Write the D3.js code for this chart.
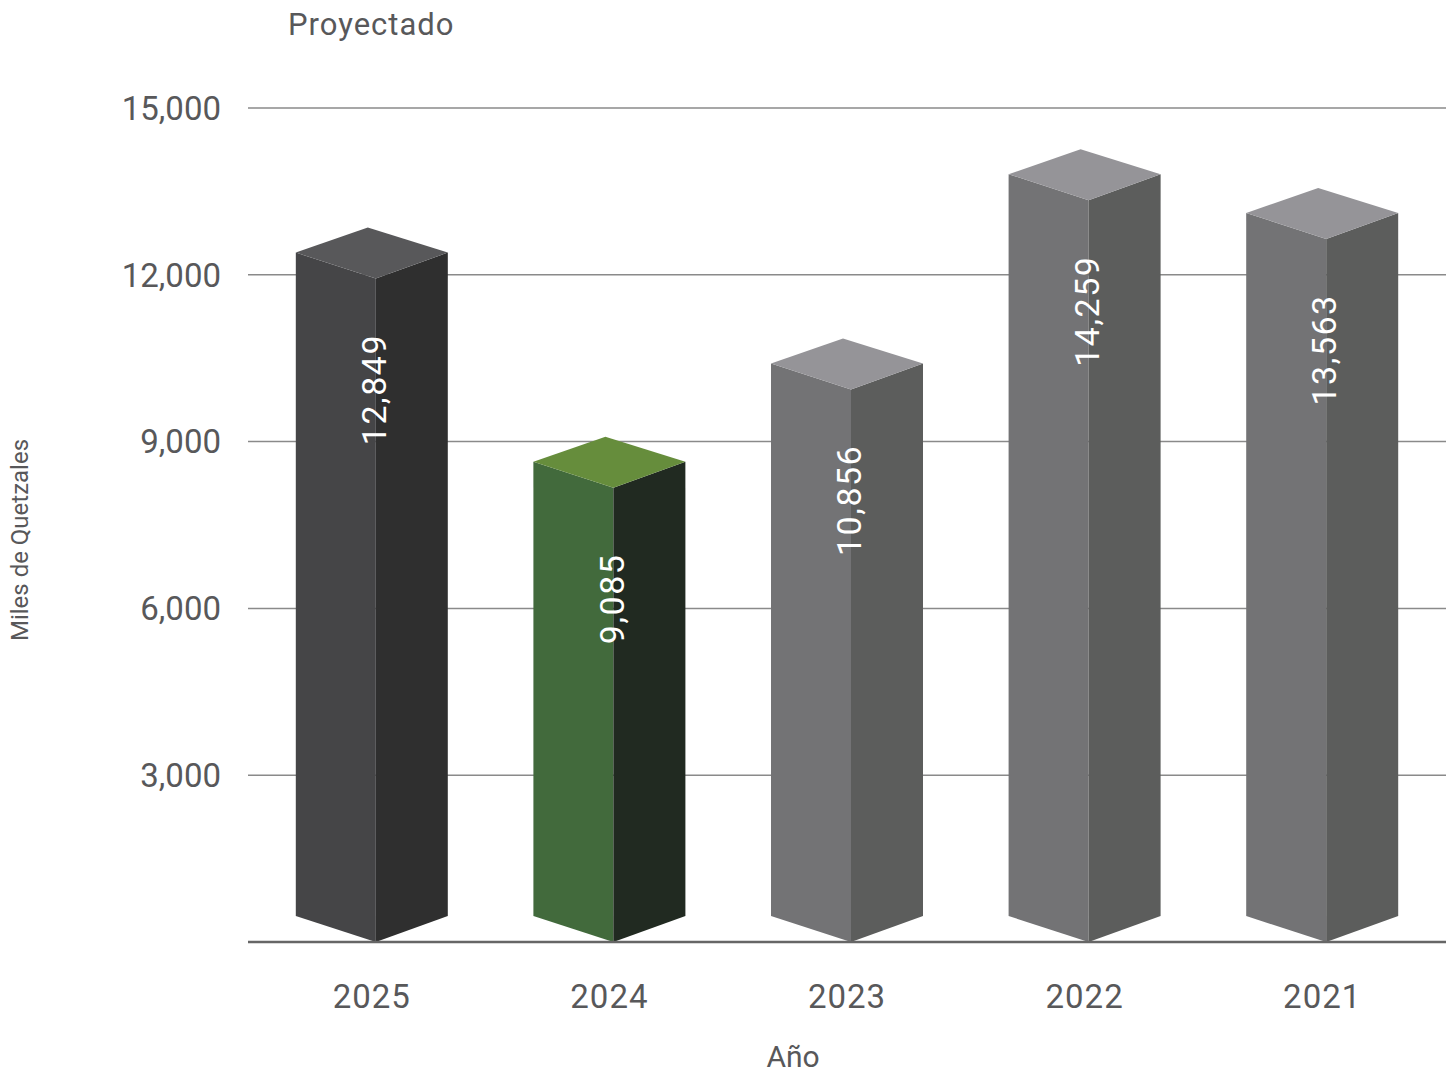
<!DOCTYPE html>
<html>
<head>
<meta charset="utf-8">
<script src="https://cdn.jsdelivr.net/npm/d3@7"></script>
<style>
  body { margin: 0; background: #fff; }
  text { font-family: "Roboto", "DejaVu Sans", sans-serif; }
</style>
</head>
<body>
<div class="chart"></div>
<script>
var svgWidth = 1453;
var svgHeight = 1075;

// data
var years = ["2025", "2024", "2023", "2022", "2021"];
var values = [12849, 9085, 10856, 14259, 13563];
var yTicks = [3000, 6000, 9000, 12000, 15000];

// face colours per bar: [left, right, top]
var palette = {
  "2025": ["#454547", "#2f2f2f", "#58585a"],
  "2024": ["#426a3c", "#212a21", "#668d3c"],
  "other": ["#737375", "#5c5d5c", "#959498"]
};

var svg = d3.select(".chart")
  .append("svg")
  .attr("width", svgWidth)
  .attr("height", svgHeight);

var xScale = d3.scaleBand()
  .domain(years)
  .range([253, 1441]);

var yScale = d3.scaleLinear()
  .domain([0, 15000])
  .range([942, 108]);

// gridlines
svg.append("g")
  .selectAll("line")
  .data(yTicks)
  .enter()
  .append("line")
  .attr("x1", 248)
  .attr("x2", 1446)
  .attr("y1", d => yScale(d))
  .attr("y2", d => yScale(d))
  .attr("stroke", "#8a8a8a")
  .attr("stroke-width", 1.5);

// y tick labels
svg.append("g")
  .selectAll("text")
  .data(yTicks)
  .enter()
  .append("text")
  .attr("x", 221)
  .attr("y", d => yScale(d))
  .attr("dy", "0.36em")
  .attr("text-anchor", "end")
  .attr("font-size", 33)
  .attr("fill", "#58585a")
  .text(d => d3.format(",")(d));

// bars as 3d prisms
var bars = svg.append("g")
  .selectAll("g")
  .data(years.map((y, i) => ({ year: y, value: values[i] })))
  .enter()
  .append("g");

function geom(d) {
  var fx = xScale(d.year) + xScale.bandwidth() / 2 + 4;
  var top = yScale(d.value);
  var base = yScale(0);
  return {
    fx: fx, lx: fx - 80, rx: fx + 72, bx: fx - 8,
    top: top, side: top + 25, front: top + 51,
    base: base, baseSide: base - 26
  };
}

function cols(d) { return palette[d.year] || palette.other; }

bars.append("path")
  .attr("d", d => {
    var g = geom(d);
    return `M${g.lx},${g.side}L${g.fx},${g.front}L${g.fx},${g.base}L${g.lx},${g.baseSide}Z`;
  })
  .attr("fill", d => cols(d)[0]);

bars.append("path")
  .attr("d", d => {
    var g = geom(d);
    return `M${g.fx},${g.front}L${g.rx},${g.side}L${g.rx},${g.baseSide}L${g.fx},${g.base}Z`;
  })
  .attr("fill", d => cols(d)[1]);

bars.append("path")
  .attr("d", d => {
    var g = geom(d);
    return `M${g.lx},${g.side}L${g.bx},${g.top}L${g.rx},${g.side}L${g.fx},${g.front}Z`;
  })
  .attr("fill", d => cols(d)[2]);

// value labels
bars.append("text")
  .attr("transform", d => {
    var g = geom(d);
    return `translate(${g.fx - 2}, ${g.top + 162}) rotate(-90)`;
  })
  .attr("text-anchor", "middle")
  .attr("dy", "0.36em")
  .attr("font-size", 34)
  .attr("letter-spacing", 1.5)
  .attr("fill", "#ffffff")
  .text(d => d3.format(",")(d.value));

// baseline
svg.append("line")
  .attr("x1", 248)
  .attr("x2", 1446)
  .attr("y1", yScale(0))
  .attr("y2", yScale(0))
  .attr("stroke", "#666666")
  .attr("stroke-width", 2.5);

// x labels
svg.append("g")
  .selectAll("text")
  .data(years)
  .enter()
  .append("text")
  .attr("x", d => xScale(d) + xScale.bandwidth() / 2)
  .attr("y", 1008)
  .attr("text-anchor", "middle")
  .attr("font-size", 33)
  .attr("letter-spacing", 1)
  .attr("fill", "#58585a")
  .text(d => d);

// titles
svg.append("text")
  .attr("x", 793)
  .attr("y", 1067)
  .attr("text-anchor", "middle")
  .attr("font-size", 30)
  .attr("fill", "#58585a")
  .text("Año");

svg.append("text")
  .attr("transform", "translate(28, 540) rotate(-90)")
  .attr("text-anchor", "middle")
  .attr("font-size", 24)
  .attr("fill", "#58585a")
  .text("Miles de Quetzales");

svg.append("text")
  .attr("x", 288)
  .attr("y", 35)
  .attr("font-size", 31)
  .attr("letter-spacing", 1)
  .attr("fill", "#58585a")
  .text("Proyectado");
</script>
</body>
</html>
